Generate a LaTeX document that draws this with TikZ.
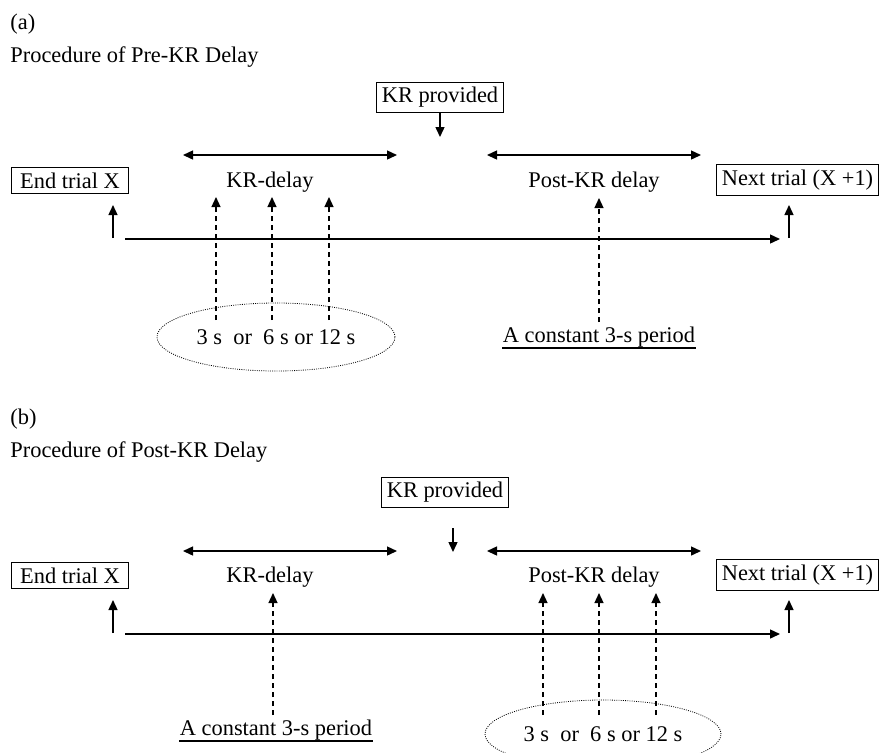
\documentclass[tikz,border=0pt]{standalone}
\usepackage{fontspec}
\setmainfont{Liberation Serif}
\usetikzlibrary{arrows.meta,shapes.geometric}

\begin{document}
\begin{tikzpicture}[x=0.5pt, y=-0.5pt,
        every node/.style={font=\fontsize{11.2}{13}\selectfont},
        stagebox/.style={draw, line width=0.5pt, inner sep=2.5pt},
        plain/.style={inner sep=0pt},
        solidarr/.style={-{Triangle[length=5pt,width=4.5pt]}, line width=0.7pt},
        spanarr/.style={{Triangle[length=5pt,width=4.5pt]}-{Triangle[length=5pt,width=4.5pt]}, line width=0.7pt},
        dasharr/.style={-{Triangle[length=5pt,width=4.5pt]}, line width=0.6pt, dash pattern=on 2.75pt off 1.75pt},
        oval/.style={draw, ellipse, line width=0.4pt, dash pattern=on 0.45pt off 0.65pt, minimum width=119pt, minimum height=34pt, inner sep=0pt},
        underl/.style={line width=1pt}]
        \useasboundingbox (0,0) rectangle (880,752);
        \clip (0,0) rectangle (880,752);

        % (a) pre-KR delay
        \node[plain, anchor=base west] (taga) at (10,29) {(a)};
        \node[plain, anchor=base west] (titlea) at (10,62) {Procedure of Pre-KR Delay};

        \node[stagebox] (kra) at (440,97.5) {KR provided};
        \coordinate (kra-end) at (440,137);
        \draw[solidarr] (kra.south) -- (kra-end);

        \coordinate (spa1-l) at (183,155);
        \coordinate (spa1-r) at (397,155);
        \coordinate (spa2-l) at (487,155);
        \coordinate (spa2-r) at (701,155);
        \draw[spanarr] (spa1-l) -- (spa1-r);
        \draw[spanarr] (spa2-l) -- (spa2-r);

        \node[stagebox, inner xsep=4.5pt] (enda) at (70,180.5) {End trial X};
        \node[plain] (delaya) at (270,182) {KR-delay};
        \node[plain] (posta) at (594,182) {Post-KR delay};
        \node[stagebox] (nexta) at (797.5,180) {Next trial (X +1)};

        \coordinate (upa1-bot) at (113,238);
        \coordinate (upa1-top) at (113,205);
        \coordinate (upa2-bot) at (789,238);
        \coordinate (upa2-top) at (789,205);
        \coordinate (linea-start) at (125,239);
        \coordinate (linea-end) at (780,239);
        \draw[solidarr] (upa1-bot) -- (upa1-top);
        \draw[solidarr] (linea-start) -- (linea-end); % time line
        \draw[solidarr] (upa2-bot) -- (upa2-top);

        \node[oval] (dura) at (276,337) {3 s\ \ or\ \ 6 s or 12 s};
        \foreach \x [count=\i] in {216,272,329} {
            \coordinate (dsa\i-bot) at (\x,320);
            \coordinate (dsa\i-top) at (\x,197);
            \draw[dasharr] (dsa\i-bot) -- (dsa\i-top);
        }

        \node[plain] (consta) at (599,337) {A constant 3-s period};
        \draw[underl] ([yshift=-2.6pt]consta.base west) -- ([yshift=-2.6pt]consta.base east);
        \coordinate (dpa-bot) at (599,322);
        \coordinate (dpa-top) at (599,198);
        \draw[dasharr] (dpa-bot) -- (dpa-top);

        % (b) post-KR delay
        \node[plain, anchor=base west] (tagb) at (10,424) {(b)};
        \node[plain, anchor=base west] (titleb) at (10,457) {Procedure of Post-KR Delay};

        \node[stagebox] (krb) at (445,492.5) {KR provided};
        \coordinate (krb-start) at (453,528);
        \coordinate (krb-end) at (453,552);
        \draw[solidarr] (krb-start) -- (krb-end);

        \coordinate (spb1-l) at (183,551);
        \coordinate (spb1-r) at (397,551);
        \coordinate (spb2-l) at (487,551);
        \coordinate (spb2-r) at (701,551);
        \draw[spanarr] (spb1-l) -- (spb1-r);
        \draw[spanarr] (spb2-l) -- (spb2-r);

        \node[stagebox, inner xsep=4.5pt] (endb) at (70,575.5) {End trial X};
        \node[plain] (delayb) at (270,577) {KR-delay};
        \node[plain] (postb) at (594,577) {Post-KR delay};
        \node[stagebox] (nextb) at (797.5,575) {Next trial (X +1)};

        \coordinate (upb1-bot) at (113,633);
        \coordinate (upb1-top) at (113,600);
        \coordinate (upb2-bot) at (789,633);
        \coordinate (upb2-top) at (789,600);
        \coordinate (lineb-start) at (125,634);
        \coordinate (lineb-end) at (780,634);
        \draw[solidarr] (upb1-bot) -- (upb1-top);
        \draw[solidarr] (lineb-start) -- (lineb-end); % time line
        \draw[solidarr] (upb2-bot) -- (upb2-top);

        \node[plain] (constb) at (276,730) {A constant 3-s period};
        \draw[underl] ([yshift=-2.6pt]constb.base west) -- ([yshift=-2.6pt]constb.base east);
        \coordinate (dpb-bot) at (273,715);
        \coordinate (dpb-top) at (273,593);
        \draw[dasharr] (dpb-bot) -- (dpb-top);

        \node[oval, minimum width=118pt] (durb) at (603,734) {3 s\ \ or\ \ 6 s or 12 s};
        \foreach \x [count=\i] in {543,599,656} {
            \coordinate (dsb\i-bot) at (\x,715);
            \coordinate (dsb\i-top) at (\x,593);
            \draw[dasharr] (dsb\i-bot) -- (dsb\i-top);
        }
    \end{tikzpicture}
\end{document}
